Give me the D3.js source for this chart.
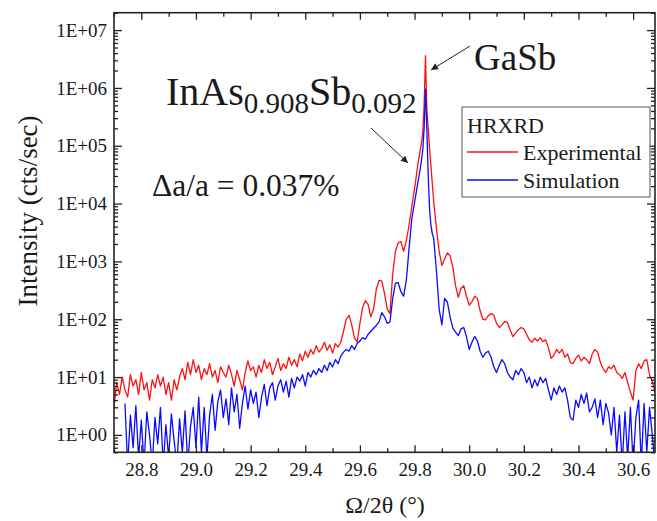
<!DOCTYPE html>
<html><head><meta charset="utf-8">
<script src="https://cdn.jsdelivr.net/npm/d3@7"></script>
<style>
body{margin:0;background:#fff}
svg{display:block}
svg text{font-family:'Liberation Serif','Times New Roman',Tinos,'DejaVu Serif',serif !important;fill:#1a1a1a}
</style>
</head><body>
<svg id="c" width="657" height="521"></svg>
<script>
// ---- data ----
const angles = [
28.70,28.71,28.72,28.73,28.74,28.75,28.76,28.77,28.78,28.79,
28.80,28.81,28.82,28.83,28.84,28.85,28.86,28.87,28.88,28.89,
28.90,28.91,28.92,28.93,28.94,28.95,28.96,28.97,28.98,28.99,
29.00,29.01,29.02,29.03,29.04,29.05,29.06,29.07,29.08,29.09,
29.10,29.11,29.12,29.13,29.14,29.15,29.16,29.17,29.18,29.19,
29.20,29.21,29.22,29.23,29.24,29.25,29.26,29.27,29.28,29.29,
29.30,29.31,29.32,29.33,29.34,29.35,29.36,29.37,29.38,29.39,
29.40,29.41,29.42,29.43,29.44,29.45,29.46,29.47,29.48,29.49,
29.50,29.51,29.52,29.53,29.54,29.55,29.56,29.57,29.58,29.59,
29.60,29.61,29.62,29.63,29.64,29.65,29.66,29.67,29.68,29.69,
29.70,29.71,29.72,29.73,29.74,29.75,29.76,29.77,29.78,29.79,
29.80,29.81,29.815,29.82,29.825,29.83,29.835,29.84,29.845,29.85,
29.855,29.86,29.865,29.87,
29.88,29.89,29.90,29.91,29.92,29.93,29.94,29.95,29.96,29.97,
29.98,29.99,30.00,30.01,30.02,30.03,30.04,30.05,30.06,30.07,
30.08,30.09,30.10,30.11,30.12,30.13,30.14,30.15,30.16,30.17,
30.18,30.19,30.20,30.21,30.22,30.23,30.24,30.25,30.26,30.27,
30.28,30.29,30.30,30.31,30.32,30.33,30.34,30.35,30.36,30.37,
30.38,30.39,30.40,30.41,30.42,30.43,30.44,30.45,30.46,30.47,
30.48,30.49,30.50,30.51,30.52,30.53,30.54,30.55,30.56,30.57,
30.58,30.59,30.60,30.61,30.62,30.63,30.64,30.65,30.66,30.67,
30.68
];
const experimental = [
3,8,5,10,6,4.5,11,7,9,5,
12,6,8,4,9,6.5,11,7,10,5,
8,4,9,6,10,14,9,18,11,20,
12,16,9,14,11,17,10,13,8,15,
12,10,16,11,7,13,9,6,12,19,
13,15,10,16,12,20,14,18,11,15,
21,13,17,14,22,16,20,15,25,19,
28,22,30,25,35,27,31,40,29,36,
26,38,33,40,62,100,118,80,48,40,
85,160,210,180,110,150,330,470,460,280,
150,125,600,1500,2100,2200,1500,2300,4300,9000,
18000,40000,58000,80000,110000,170000,500000,3600000,420000,200000,
90000,45000,22000,11000,
3800,1500,850,1100,1400,1250,800,380,240,340,
380,250,175,200,250,230,140,100,98,115,
125,118,85,72,80,92,88,65,50,58,
66,72,68,55,44,40,47,42,48,41,
44,32,21,24,30,26,30,22,25,18,
17,21,24,19,22,20,17,25,30,27,
18,14,12,15,14,16,12,11,9.5,12,
8,5.5,4,13,17,14,19,20,11,8.5,
5.5
];
const simulation = [
null,null,null,null,3.5,0.3,2.2,0.6,3.2,0.4,
1.8,0.3,2.5,1.0,0.3,2.0,0.7,3.0,0.3,1.5,
0.4,2.3,0.8,0.3,1.9,0.5,2.6,0.3,1.4,3.0,
0.6,4.5,0.5,3.0,0.4,2.2,5.0,1.2,3.8,6.0,
2.0,4.2,1.5,6.5,2.5,5.0,1.3,3.5,7.0,2.8,
6.0,3.5,5.5,2.0,4.5,7.5,3.2,6.5,8.0,4.0,
7.0,9.0,5.5,8.5,4.5,9.5,6.5,10,8.5,11,
7.0,12,10,13,11,14,12,16,13,18,
15,20,17,23,27,30,28,35,30,38,
42,48,45,55,62,70,78,90,130,110,
85,90,230,420,430,300,250,480,1700,5500,
10500,20000,28000,38000,55000,85000,200000,950000,200000,30000,
8000,4200,3000,2500,
700,150,80,230,200,110,70,60,52,68,
72,50,30,40,50,42,28,22,26,28,
22,15,12,16,20,17,12,10,9,13,
11,14,12,8,10,6.5,9,7,10,8,
9.5,6,4,6.5,5,7,5.5,6.5,4,2,
1.8,4,3,5,3.5,5.3,2.5,3,4.2,2,
4,1.5,3.5,2.4,1,3,0.5,2.2,0.3,2.5,
0.4,3.0,0.3,2.0,4.0,0.3,3.5,0.5,3.0,1.0,
0.3
];
const seriesNames = ["Experimental", "Simulation"];
const legendTitle = "HRXRD";
const xTickValues = [28.8, 29.0, 29.2, 29.4, 29.6, 29.8, 30.0, 30.2, 30.4, 30.6];
const xTickLabels = ["28.8","29.0","29.2","29.4","29.6","29.8","30.0","30.2","30.4","30.6"];
const yTickValues = [1, 10, 100, 1e3, 1e4, 1e5, 1e6, 1e7];
const yTickLabels = ["1E+00","1E+01","1E+02","1E+03","1E+04","1E+05","1E+06","1E+07"];
const xTitle = "Ω/2θ (°)";
const yTitle = "Intensity (cts/sec)";

// ---- layout ----
const FONT = "'Liberation Serif','Times New Roman',Tinos,'DejaVu Serif',serif";
const L = 114, R = 655, T = 12.7, B = 452.3;
const svg = d3.select("#c");
const x = d3.scaleLinear().domain([28.70, 30.68]).range([L, R]);
const y = d3.scaleLog().domain([0.5, 2e7]).range([B, T]);

svg.append("defs").append("clipPath").attr("id","clip")
  .append("rect").attr("x",L).attr("y",T).attr("width",R-L).attr("height",B-T);
const mk = svg.select("defs").append("marker").attr("id","arr")
  .attr("viewBox","0 0 10 10").attr("refX",10).attr("refY",5)
  .attr("markerWidth",9).attr("markerHeight",7).attr("markerUnits","userSpaceOnUse")
  .attr("orient","auto");
mk.append("path").attr("d","M0,0 L10,5 L0,10 Z").attr("fill","#222");

// series
const pts = (vals) => angles.map((a,i)=>({a, v: vals[i]}));
const line = d3.line().defined(d => d.v != null).x(d => x(d.a)).y(d => y(d.v));
const g = svg.append("g").attr("clip-path","url(#clip)");
g.append("path").datum(pts(experimental)).attr("d", line)
  .attr("fill","none").attr("stroke","#ff1010").attr("stroke-width",1.3).attr("stroke-linejoin","round");
g.append("path").datum(pts(simulation)).attr("d", line)
  .attr("fill","none").attr("stroke","#0a0aff").attr("stroke-width",1.3).attr("stroke-linejoin","round");

// axes
const xMinor = x.ticks(20).filter(t => !xTickValues.some(v => Math.abs(v-t) < 1e-6));
const yMinor = y.ticks().filter(t => !yTickValues.some(v => Math.abs(v-t) < 1e-9));
function styleAxis(sel){ sel.attr("font-family", FONT); sel.select(".domain").remove(); sel.selectAll("line").attr("stroke","#222").attr("stroke-width",1.3); }

const fmtX = (d) => xTickLabels[xTickValues.indexOf(d)];
const fmtY = (d) => yTickLabels[yTickValues.indexOf(d)];

svg.append("g").attr("transform",`translate(0,${B})`)
  .call(d3.axisBottom(x).tickValues(xTickValues).tickFormat(fmtX).tickSizeInner(-7).tickSizeOuter(0).tickPadding(10))
  .call(styleAxis).call(s => s.selectAll("text").attr("font-size",19).attr("font-family",FONT).attr("fill","#1a1a1a"));
svg.append("g").attr("transform",`translate(0,${B})`)
  .call(d3.axisBottom(x).tickValues(xMinor).tickFormat("").tickSizeInner(-4).tickSizeOuter(0)).call(styleAxis);
svg.append("g").attr("transform",`translate(0,${T})`)
  .call(d3.axisTop(x).tickValues(xTickValues).tickFormat("").tickSizeInner(-7).tickSizeOuter(0)).call(styleAxis);
svg.append("g").attr("transform",`translate(0,${T})`)
  .call(d3.axisTop(x).tickValues(xMinor).tickFormat("").tickSizeInner(-4).tickSizeOuter(0)).call(styleAxis);

svg.append("g").attr("transform",`translate(${L},0)`)
  .call(d3.axisLeft(y).tickValues(yTickValues).tickFormat(fmtY).tickSizeInner(-8).tickSizeOuter(0).tickPadding(7))
  .call(styleAxis).call(s => s.selectAll("text").attr("font-size",19).attr("font-family",FONT).attr("fill","#1a1a1a"));
svg.append("g").attr("transform",`translate(${L},0)`)
  .call(d3.axisLeft(y).tickValues(yMinor).tickFormat("").tickSizeInner(-4).tickSizeOuter(0)).call(styleAxis);
svg.append("g").attr("transform",`translate(${R},0)`)
  .call(d3.axisRight(y).tickValues(yTickValues).tickFormat("").tickSizeInner(-8).tickSizeOuter(0)).call(styleAxis);
svg.append("g").attr("transform",`translate(${R},0)`)
  .call(d3.axisRight(y).tickValues(yMinor).tickFormat("").tickSizeInner(-4).tickSizeOuter(0)).call(styleAxis);

svg.append("rect").attr("x",L).attr("y",T).attr("width",R-L).attr("height",B-T)
  .attr("fill","none").attr("stroke","#222").attr("stroke-width",1.6);

const txt = (sel) => sel.append("text").attr("font-family", FONT).attr("fill","#1a1a1a");

// axis titles
txt(svg).attr("x",385).attr("y",513).attr("text-anchor","middle").attr("font-size",24).text(xTitle);
txt(svg).attr("transform","translate(37,211) rotate(-90)").attr("text-anchor","middle").attr("font-size",27).text(yTitle);

// annotations
txt(svg).attr("x",474).attr("y",70).attr("font-size",37).text("GaSb");
const t1 = txt(svg).attr("x",166).attr("y",105).attr("font-size",40);
t1.append("tspan").text("InAs");
t1.append("tspan").attr("font-size",29).attr("dy",8).text("0.908");
t1.append("tspan").attr("dy",-8).text("Sb");
t1.append("tspan").attr("font-size",29).attr("dy",8).text("0.092");
txt(svg).attr("x",152).attr("y",196).attr("font-size",31.5).text("Δa/a = 0.037%");

svg.append("line").attr("x1",470).attr("y1",46).attr("x2",431).attr("y2",70)
  .attr("stroke","#222").attr("stroke-width",1).attr("marker-end","url(#arr)");
svg.append("line").attr("x1",371).attr("y1",128).attr("x2",408).attr("y2",163)
  .attr("stroke","#222").attr("stroke-width",1).attr("marker-end","url(#arr)");

// legend
const lg = svg.append("g");
lg.append("rect").attr("x",462).attr("y",107).attr("width",188).attr("height",90)
  .attr("fill","#fff").attr("stroke","#555").attr("stroke-width",1);
txt(lg).attr("x",467).attr("y",133).attr("font-size",22).text(legendTitle);
const colors = ["#ff1010","#0a0aff"];
seriesNames.forEach((n,i) => {
  const yy = 152 + i*28;
  lg.append("line").attr("x1",467).attr("x2",518).attr("y1",yy).attr("y2",yy)
    .attr("stroke",colors[i]).attr("stroke-width",1.3);
  txt(lg).attr("x",523).attr("y",yy+8).attr("font-size",22).text(n);
});
</script>
</body></html>
